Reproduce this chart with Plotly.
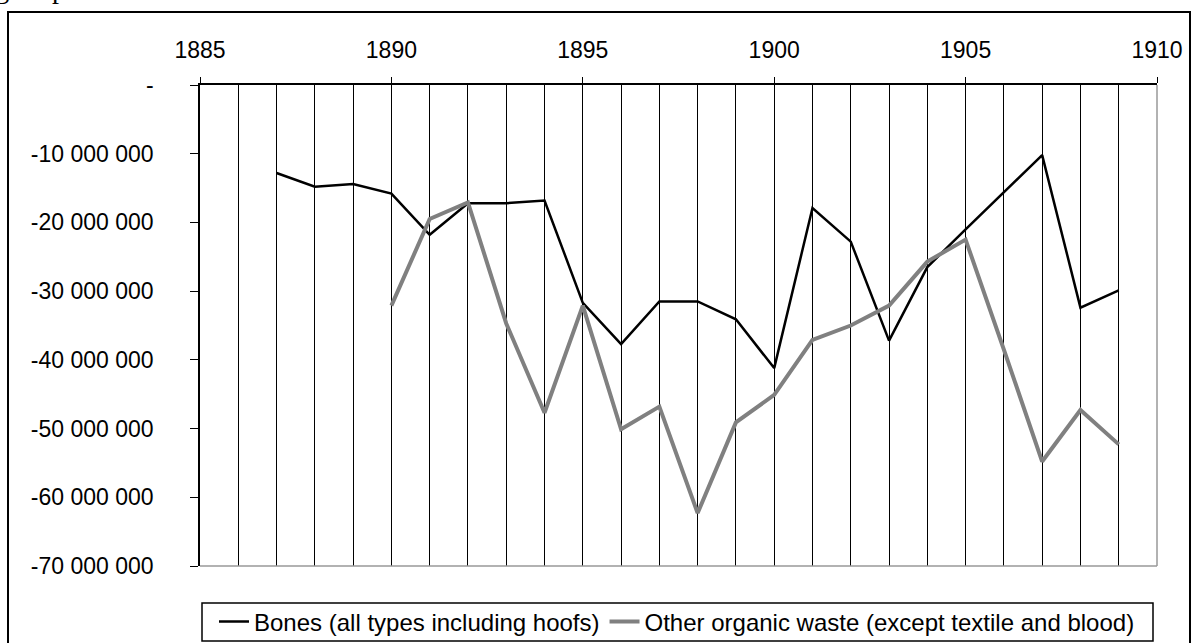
import plotly.graph_objects as go

# exports (negative) per year
bones_years = list(range(1887, 1910))
bones = [-12.8, -14.8, -14.4, -15.8, -21.8, -17.2, -17.2, -16.8, -31.7, -37.7,
         -31.5, -31.5, -34.1, -41.2, -17.9, -22.8, -37.2, -26.5, -21.0, -15.6,
         -10.2, -32.4, -29.9]
other_years = list(range(1890, 1910))
other = [-32.1, -19.5, -17.1, -34.7, -47.7, -32.1, -50.1, -46.8, -62.3, -49.1,
         -45.1, -37.1, -35.0, -32.1, -25.7, -22.5, -38.5, -54.8, -47.3, -52.3]

bones = [v * 1e6 for v in bones]
other = [v * 1e6 for v in other]

y_ticks = [0, -10000000, -20000000, -30000000, -40000000, -50000000, -60000000, -70000000]
y_labels = ["-" if v == 0 else f"{v:,}".replace(",", " ") for v in y_ticks]

FONT = "Arial, Liberation Sans, sans-serif"
W, H = 1194, 643

# plot area in pixels
L, R, T, B = 200, 1157, 85, 566


def px(x):
    return (x - L) / (R - L)


def py(y):
    return (B - y) / (B - T)


fig = go.Figure()
fig.add_trace(go.Scatter(
    x=bones_years, y=bones, mode="lines",
    name="Bones (all types including hoofs)",
    line=dict(color="black", width=2.5),
))
fig.add_trace(go.Scatter(
    x=other_years, y=other, mode="lines",
    name="Other organic waste (except textile and blood)",
    line=dict(color="#808080", width=4),
))

fig.update_xaxes(
    side="top", range=[1885, 1910], dtick=5, tick0=1885,
    ticks="outside", ticklen=6, tickcolor="black",
    showline=True, linecolor="black", linewidth=1.5,
    showgrid=True, gridcolor="black", gridwidth=1,
    minor=dict(dtick=1, showgrid=True, gridcolor="black", gridwidth=1),
    zeroline=False, ticklabelstandoff=10,
    tickfont=dict(family=FONT, size=23, color="black"),
)
fig.update_yaxes(
    range=[-70000000, 0], tickvals=y_ticks, ticktext=y_labels,
    ticks="outside", ticklen=8, tickcolor="black",
    showline=True, linecolor="black", linewidth=1.5,
    showgrid=False, zeroline=False, ticklabelstandoff=32,
    tickfont=dict(family=FONT, size=23, color="black"),
)

shapes = [
    # grey plot border on right and bottom
    dict(type="line", xref="paper", yref="paper", x0=1, x1=1, y0=0, y1=1,
         line=dict(color="#999999", width=1.5)),
    dict(type="line", xref="paper", yref="paper", x0=0, x1=1, y0=0, y1=0,
         line=dict(color="#999999", width=1.5)),
    # outer chart border
    dict(type="rect", xref="paper", yref="paper", x0=px(8), x1=px(1190),
         y0=py(660), y1=py(12), line=dict(color="black", width=2), layer="below"),
    # legend box
    dict(type="rect", xref="paper", yref="paper", x0=px(202), x1=px(1153),
         y0=py(641), y1=py(603), line=dict(color="black", width=1.5)),
]

fig.update_layout(
    width=W, height=H,
    margin=dict(l=L, r=W - R, t=T, b=H - B, autoexpand=False),
    paper_bgcolor="white", plot_bgcolor="white",
    font=dict(family=FONT, color="black"),
    showlegend=True,
    legend=dict(
        orientation="h", xref="container", yref="container",
        x=677 / W, xanchor="center", y=1 - 622 / H, yanchor="middle",
        font=dict(family=FONT, size=24, color="black"),
        bgcolor="rgba(0,0,0,0)", borderwidth=0, itemwidth=30, tracegroupgap=0,
    ),
    shapes=shapes,
    annotations=[dict(
        text="Figure p", xref="paper", yref="paper", x=px(-30), y=py(6),
        xanchor="left", yanchor="bottom", showarrow=False,
        font=dict(family="Liberation Serif, Times New Roman, serif", size=28, color="black"),
    )],
)

fig.write_html("out.html", config={"displayModeBar": False},
               post_script="document.body.style.margin='0';")
